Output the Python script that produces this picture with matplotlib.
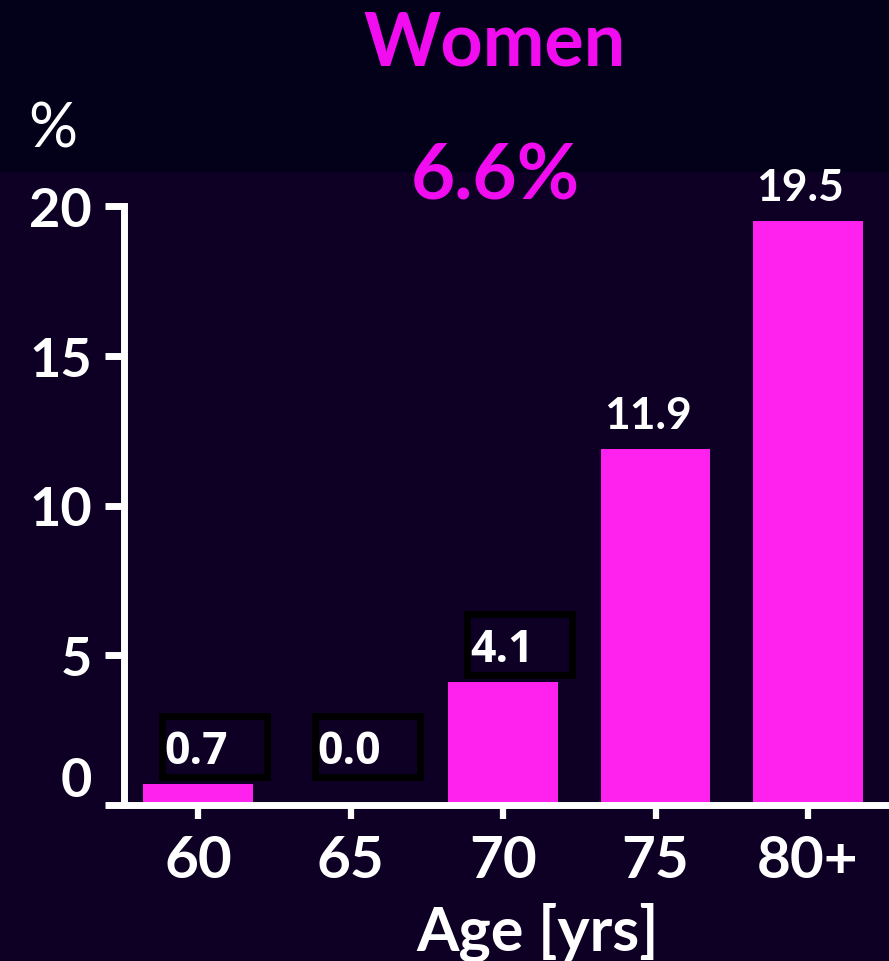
import matplotlib
matplotlib.use("Agg")
import matplotlib.pyplot as plt
from matplotlib.patches import Rectangle

# prevalence by age group, women
ages = ["60", "65", "70", "75", "80+"]
values = [0.7, 0.0, 4.1, 11.9, 19.5]
boxed = [True, True, True, False, False]
overall = "6.6%"

W, H = 889, 962
bg_top = "#03001a"
bg_main = "#0d0024"
magenta = "#ff22ee"
title_col = "#f20cf0"

plt.rcParams["font.family"] = ["Lato", "DejaVu Sans"]
plt.rcParams["font.weight"] = "bold"

fig = plt.figure(figsize=(W / 100, H / 100), dpi=100, facecolor=bg_main)
# darker band behind the heading
fig.add_artist(Rectangle((0, 1 - 172 / H), 1, 172 / H, transform=fig.transFigure,
                         color=bg_top, zorder=0))

ax = fig.add_axes([124 / W, 1 - 806 / H, (W - 124) / W, (806 - 207) / H])
ax.set_facecolor("none")

pos = list(range(len(values)))
ax.bar(pos, values, width=0.72, color=magenta, zorder=2)

ax.set_xlim(-0.486, 4.531)
ax.set_ylim(0, 20)

for s in ["top", "right"]:
    ax.spines[s].set_visible(False)
for s in ["left", "bottom"]:
    ax.spines[s].set_color("white")
    ax.spines[s].set_linewidth(5)
    ax.spines[s].set_zorder(3)

ax.set_yticks([0, 5, 10, 15, 20])
ax.set_xticks(pos)
ax.set_xticklabels(ages)
ax.tick_params(axis="y", direction="out", length=14, width=5, color="white",
               labelcolor="white", labelsize=39, pad=9)
ax.tick_params(axis="x", direction="out", length=10, width=4.5, color="white",
               labelcolor="white", labelsize=42, pad=11)
for lab in ax.get_yticklabels():
    lab.set_fontweight("bold")
ax.get_yticklabels()[0].set_verticalalignment("bottom")
for lab in ax.get_xticklabels():
    lab.set_fontweight("bold")

# value labels above the bars
for p, v, b in zip(pos, values, boxed):
    ly = max(v, 0.7) + 0.7
    ax.text(p - 0.01 if b else p - 0.05, ly, "%.1f" % v, ha="center", va="baseline",
            color="white", fontsize=32, fontweight="bold", clip_on=False, zorder=5,
            family=["Open Sans", "DejaVu Sans"] if b else ["Lato", "DejaVu Sans"])
    if b:
        ax.add_patch(Rectangle((p - 0.236, ly - 0.47), 0.689, 2.04, fill=False,
                               edgecolor="black", linewidth=5, clip_on=False, zorder=4))

fig.text(494 / W, 1 - 65 / H, "Women", ha="center", va="baseline",
         color=title_col, fontsize=53, fontweight="bold")
fig.text(495 / W, 1 - 200 / H, overall, ha="center", va="baseline",
         color=title_col, fontsize=55, fontweight="bold")
fig.text(28 / W, 1 - 148 / H, "%", ha="left", va="baseline",
         color="white", fontsize=44, fontweight="normal")
fig.text(538 / W, 1 - 950 / H, "Age [yrs]", ha="center", va="baseline",
         color="white", fontsize=44, fontweight="bold")

fig.savefig("out.png", dpi=100, facecolor=fig.get_facecolor())
